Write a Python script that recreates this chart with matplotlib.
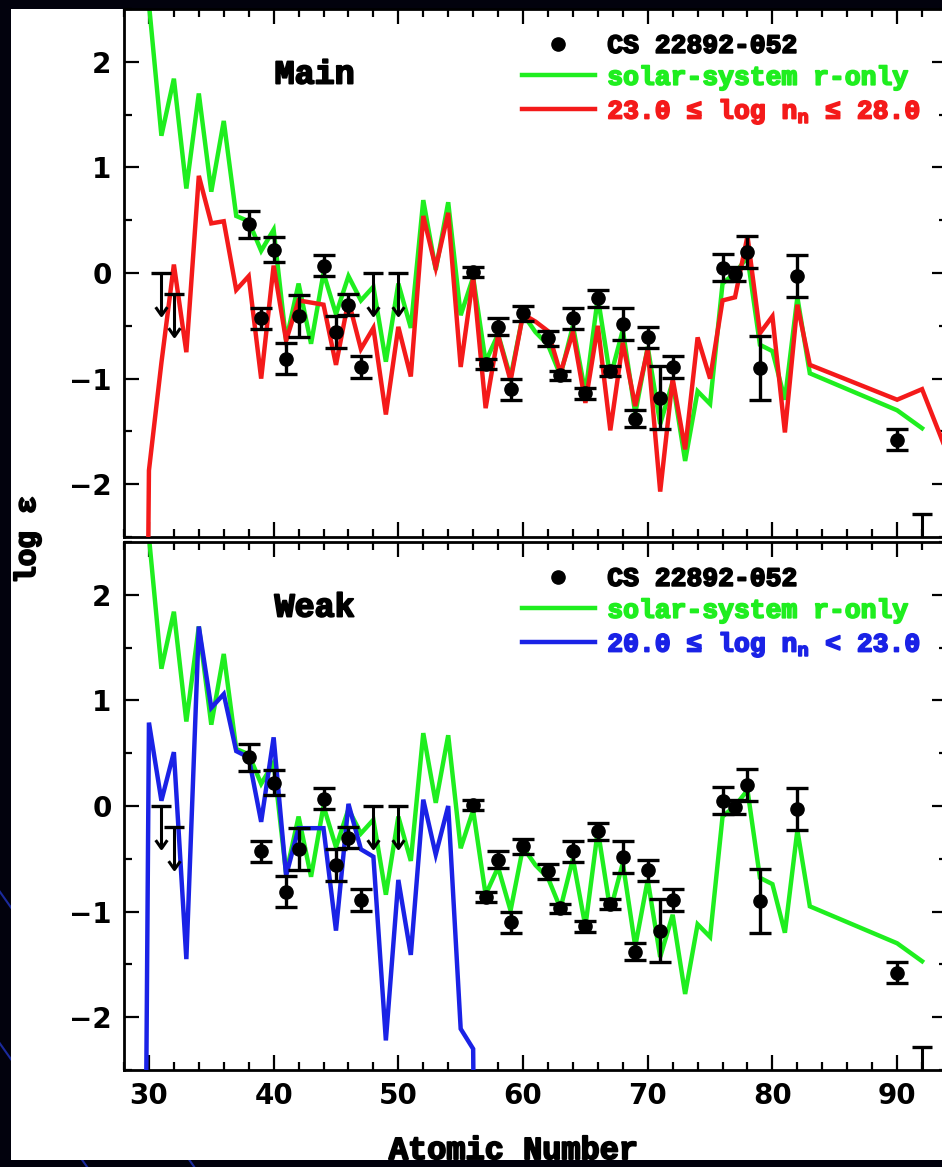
import matplotlib.pyplot as plt
import matplotlib.patheffects as pe
from matplotlib.path import Path
from matplotlib.lines import Line2D
from matplotlib.patches import Rectangle

# CS 22892-052 measured abundances (log eps) and errors
star_z = [38, 39, 40, 41, 42, 44, 45, 46, 47, 56, 57, 58, 59, 60, 62, 63, 64,
          65, 66, 67, 68, 69, 70, 71, 72, 76, 77, 78, 79, 82, 90]
star_val = [0.46, -0.43, 0.22, -0.81, -0.41, 0.07, -0.56, -0.30, -0.89, 0.01,
            -0.86, -0.51, -1.10, -0.38, -0.62, -0.97, -0.43, -1.14, -0.24, -0.93,
            -0.48, -1.38, -0.61, -1.18, -0.89, 0.05, -0.01, 0.20, -0.90, -0.03, -1.58]
star_err = [0.13, 0.10, 0.12, 0.15, 0.20, 0.10, 0.15, 0.10, 0.10, 0.05, 0.05,
            0.08, 0.10, 0.07, 0.07, 0.04, 0.10, 0.05, 0.08, 0.05, 0.15, 0.08,
            0.10, 0.30, 0.10, 0.13, 0.07, 0.15, 0.30, 0.20, 0.10]

# upper limits
lim_z = [31, 32, 48, 50, 92]
lim_val = [0.0, -0.20, 0.0, 0.0, -2.28]

# solar-system r-only
solar_z = [30, 31, 32, 33, 34, 35, 36, 37, 38, 39, 40, 41, 42, 43, 44, 45, 46,
           47, 48, 49, 50, 51, 52, 53, 54, 55, 56, 57, 58, 59, 60, 61, 62, 63,
           64, 65, 66, 67, 68, 69, 70, 71, 72, 73, 74, 75, 76, 77, 78, 79, 80,
           81, 82, 83, 90, 92]
solar_val = [2.55, 1.30, 1.84, 0.80, 1.70, 0.77, 1.44, 0.54, 0.49, 0.21, 0.41,
             -0.64, -0.10, -0.67, 0.00, -0.39, -0.03, -0.26, -0.13, -0.84, -0.10,
             -0.52, 0.69, 0.03, 0.67, -0.40, -0.04, -0.84, -0.58, -0.99, -0.39,
             -0.56, -0.68, -0.97, -0.50, -1.14, -0.23, -0.99, -0.54, -1.33, -0.70,
             -1.43, -1.03, -1.78, -1.12, -1.24, -0.10, 0.00, 0.15, -0.68, -0.74,
             -1.20, -0.23, -0.95, -1.30, -1.47]

# main component, 23.0 <= log n_n <= 28.0
main_z = [29, 30, 31, 32, 33, 34, 35, 36, 37, 38, 39, 40, 41, 42, 44, 45, 46,
          47, 48, 49, 50, 51, 52, 53, 54, 55, 56, 57, 58, 59, 60, 61, 62, 63,
          64, 65, 66, 67, 68, 69, 70, 71, 72, 73, 74, 75, 76, 77, 78, 79, 80,
          81, 82, 83, 90, 92, 94]
main_val = [-15.0, -1.87, -0.85, 0.08, -0.75, 0.92, 0.47, 0.49, -0.16, -0.03,
            -1.00, 0.07, -0.64, -0.26, -0.30, -0.87, -0.26, -0.72, -0.52, -1.34,
            -0.51, -0.98, 0.54, 0.05, 0.57, -0.89, -0.04, -1.28, -0.59, -1.02,
            -0.39, -0.46, -0.55, -0.95, -0.56, -1.23, -0.50, -1.49, -0.66, -1.26,
            -0.72, -2.07, -1.00, -1.67, -0.61, -1.00, -0.26, -0.23, 0.35, -0.57,
            -0.41, -1.51, -0.30, -0.87, -1.20, -1.10, -1.70]

# weak component, 20.0 <= log n_n < 23.0
weak_z = [29, 30, 31, 32, 33, 34, 35, 36, 37, 38, 39, 40, 41, 42, 44, 45, 46,
          47, 48, 49, 50, 51, 52, 53, 54, 55, 56, 57]
weak_val = [-15.0, 0.79, 0.05, 0.51, -1.45, 1.70, 0.93, 1.06, 0.52, 0.46, -0.15,
            0.65, -0.66, -0.21, -0.21, -1.18, 0.02, -0.41, -0.48, -2.22, -0.70,
            -1.41, 0.06, -0.46, 0.00, -2.11, -2.30, -15.0]

GREEN = "#1fee1f"
RED = "#f41a1a"
BLUE = "#1a22e6"

TXT = ["Liberation Mono", "DejaVu Sans"]
bold_fx = [pe.withStroke(linewidth=1.4, foreground="k")]

arrow_head = Path([(-0.42, 0.6), (0, 0), (0.42, 0.6)],
                  [Path.MOVETO, Path.LINETO, Path.LINETO])


def draw_panel(ax, model_z, model_val, color, model_label, title):
    ax.plot(solar_z, solar_val, color=GREEN, lw=3.2, zorder=2,
            label="solar-system r-only", solid_joinstyle="miter")
    ax.plot(model_z, model_val, color=color, lw=3.2, zorder=3,
            label=model_label, solid_joinstyle="miter")
    ax.errorbar(star_z, star_val, yerr=star_err, fmt="none", ecolor="k",
                elinewidth=2.4, capsize=8, capthick=2.4, zorder=4)
    ax.plot(star_z, star_val, "o", color="k", ms=9.5, zorder=5,
            label="CS 22892-052")
    # upper limits
    tips = [v - 0.4 for v in lim_val]
    ax.vlines(lim_z, tips, lim_val, color="k", lw=2.2, zorder=4)
    ax.plot(lim_z, lim_val, "_", color="k", ms=14, mew=2.4, zorder=4)
    ax.plot(lim_z, tips, marker=arrow_head, ls="none", color="k", ms=12,
            mew=2.2, mfc="none", zorder=4)

    ax.set_xlim(28, 94)
    ax.set_ylim(-2.5, 2.5)
    ax.set_xticks(range(30, 91, 10))
    ax.set_xticks(range(28, 95, 2), minor=True)
    ax.set_yticks([-2, -1, 0, 1, 2])
    ax.set_yticks([-2.5, -1.5, -0.5, 0.5, 1.5, 2.5], minor=True)
    ax.tick_params(which="both", direction="in", top=True, right=True,
                   width=1.6, labelsize=20, pad=9)
    ax.tick_params(which="major", length=11)
    ax.tick_params(which="minor", length=6)
    for lab in ax.get_xticklabels() + ax.get_yticklabels():
        lab.set_fontweight("bold")
    for s in ax.spines.values():
        s.set_linewidth(2)

    ax.text(0.183, 0.875, title, transform=ax.transAxes, fontsize=24,
            fontweight="bold", family=TXT, va="center", path_effects=bold_fx)

    h, l = ax.get_legend_handles_labels()
    order = [2, 0, 1]
    leg = ax.legend([h[i] for i in order], [l[i] for i in order],
                    loc="upper left", bbox_to_anchor=(0.483, 0.953),
                    frameon=False, borderpad=0, borderaxespad=0,
                    handlelength=2.8, handletextpad=0.45, labelspacing=0.3,
                    labelcolor="linecolor",
                    prop={"family": TXT, "weight": "bold", "size": 19})
    for t in leg.get_texts():
        t.set_path_effects([pe.withStroke(linewidth=1.3,
                                          foreground=t.get_color())])


fig = plt.figure(figsize=(9.42, 11.67), dpi=100, facecolor="#02020d")
plt.rcParams["mathtext.fontset"] = "custom"

# slide decoration behind the chart
for x0, y0 in [(-0.10, 0.35), (-0.10, 0.22), (-0.10, 0.10)]:
    fig.add_artist(Line2D([x0, x0 + 0.35], [y0, y0 - 0.40],
                          color="#1b2a9c", lw=1.5, zorder=-3))
fig.patches.append(Rectangle((11 / 942, 7 / 1167), 931 / 942, 1151 / 1167,
                             transform=fig.transFigure, facecolor="white",
                             edgecolor="none", zorder=-2))

ax1 = fig.add_axes([124 / 942, 630 / 1167, 823 / 942, 528 / 1167])
ax2 = fig.add_axes([124 / 942, 97 / 1167, 823 / 942, 528 / 1167], sharex=ax1)

draw_panel(ax1, main_z, main_val, RED,
           r"23.0 ≤ log n$_\mathregular{n}$ ≤ 28.0", "Main")
draw_panel(ax2, weak_z, weak_val, BLUE,
           r"20.0 ≤ log n$_\mathregular{n}$ < 23.0", "Weak")
ax1.tick_params(labelbottom=False)

fig.text(514 / 942, 1 - 1136 / 1167, "Atomic Number", ha="center", va="top",
         fontsize=23, fontweight="bold", family=TXT, path_effects=bold_fx)
fig.text(27 / 942, 1 - 540 / 1167, "log ε", ha="center", va="center",
         rotation=90, fontsize=21, fontweight="bold", family=TXT,
         path_effects=bold_fx)

fig.savefig("out.png", dpi=100, facecolor=fig.get_facecolor())
